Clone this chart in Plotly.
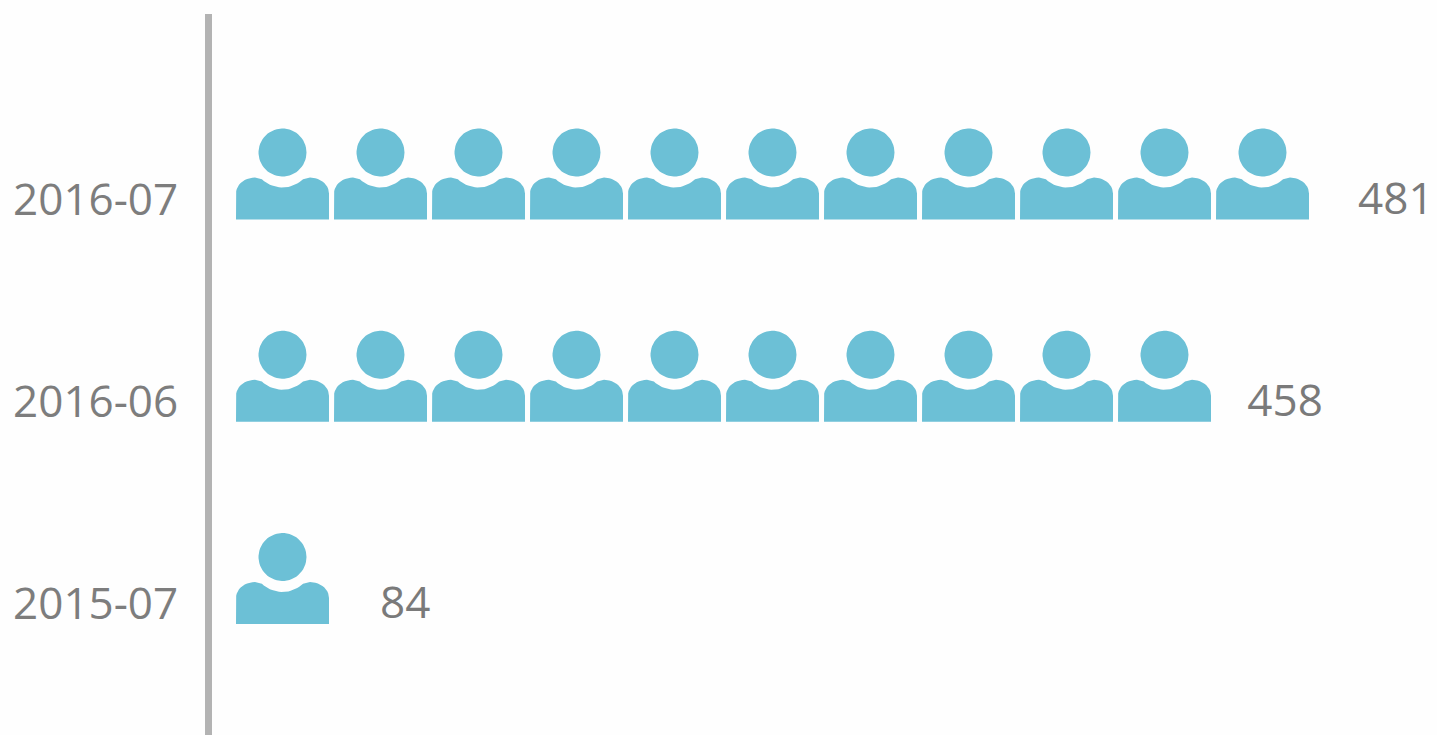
import numpy as np
import plotly.graph_objects as go

months = ["2015-07", "2016-06", "2016-07"]
values = [84, 458, 481]
icon_counts = [1, 10, 11]
label_slots = [1.47, 10.32, 11.45]

ICON_PITCH = 98.0   # px per icon slot
ROW_PITCH = 202.25  # px per row
ICON_W = 93.0


def arc(cx, cy, rx, ry, a0, a1, n=24):
    t = np.radians(np.linspace(a0, a1, n))
    return list(cx + rx * np.cos(t)), list(cy + ry * np.sin(t))


# Icon outline, in px relative to the icon's bottom-left corner (y up)
hx, hy = arc(46.5, 67, 24, 24, 0, 360, 60)
nx, ny = arc(46.5, 67, 32, 35, 230, 310, 20)
lx, ly = arc(19, 26, 19, 16, 180, 90, 12)
rx, ry = arc(74, 26, 19, 16, 90, 0, 12)
bx = [0] + lx + nx + rx + [ICON_W, 0]
by = [0] + ly + ny + ry + [0, 0]

xs, ys = [], []
for row, count in enumerate(icon_counts):
    for i in range(count):
        for px, py in ((bx, by), (hx, hy)):
            xs += [i + p / ICON_PITCH for p in px] + [None]
            ys += [row + (q - 20) / ROW_PITCH for q in py] + [None]

fig = go.Figure()
fig.add_trace(go.Scatter(
    x=xs, y=ys, mode="lines", fill="toself", fillcolor="#6cc0d6",
    line=dict(width=0, color="#6cc0d6"), hoverinfo="skip", showlegend=False,
))
fig.add_trace(go.Scatter(
    x=label_slots, y=[r - 3 / ROW_PITCH for r in range(len(values))], mode="text",
    text=[str(v) for v in values], textposition="middle right",
    textfont=dict(family="Open Sans", size=44, color="#7a7a7a"),
    hoverinfo="skip", showlegend=False,
))

LEFT, TOP = 212, 14
fig.update_layout(
    width=1437, height=735,
    margin=dict(l=LEFT, r=0, t=TOP, b=0, pad=0),
    paper_bgcolor="#fefefe", plot_bgcolor="#fefefe",
    xaxis=dict(
        range=[(LEFT - 236) / ICON_PITCH, (1437 - 236) / ICON_PITCH],
        visible=False, fixedrange=True,
    ),
    yaxis=dict(
        range=[(604 - 735) / ROW_PITCH, (604 - TOP) / ROW_PITCH],
        tickmode="array", tickvals=list(range(len(months))), ticktext=months,
        showgrid=False, zeroline=False, showline=True, linewidth=7, linecolor="#b3b3b3",
        ticks="", ticklabelstandoff=18,
        tickfont=dict(family="Open Sans", size=44, color="#7d7d7d"),
        fixedrange=True,
    ),
)

fig.write_html(
    "out.html",
    config={"displayModeBar": False},
    post_script="document.body.style.margin='0';document.body.style.overflow='hidden';",
)
